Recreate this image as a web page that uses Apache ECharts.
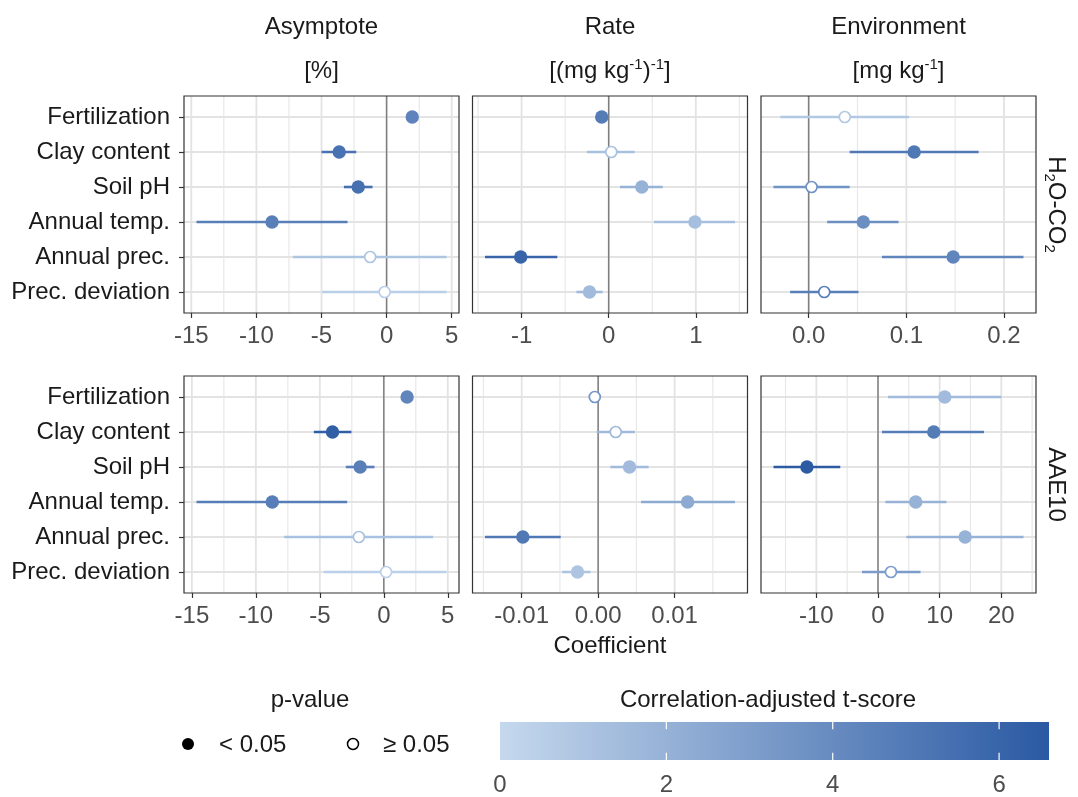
<!DOCTYPE html>
<html>
<head>
<meta charset="utf-8">
<script src="https://cdn.jsdelivr.net/npm/echarts@6/dist/echarts.min.js"></script>
<style>
  html, body { margin: 0; padding: 0; background: #ffffff; }
  #chart { width: 1078px; height: 797px; }
</style>
</head>
<body>
<div id="chart"></div>
<script>
// Predictors (rows), model parameters (columns) and responses (facet rows)
const predictors = ['Fertilization', 'Clay content', 'Soil pH', 'Annual temp.', 'Annual prec.', 'Prec. deviation'];
const parameterNames = ['Asymptote', 'Rate', 'Environment'];
const parameterUnits = ['[%]', '[(mg kg{sup|-1}){sup|-1}]', '[mg kg{sup|-1}]'];
const responseLabels = ['H{sub|2}O-CO{sub|2}', 'AAE10'];

// H2O-CO2 : Asymptote
const h2oAsymEst  = [1.97, -3.64, -2.18, -8.80, -1.26, -0.15];
const h2oAsymLow  = [1.75, -5.00, -3.28, -14.60, -7.20, -4.95];
const h2oAsymHigh = [2.19, -2.33, -1.08, -3.00, 4.60, 4.60];
const h2oAsymT    = [4.4, 5.3, 5.4, 4.6, 1.0, 0.5];
const h2oAsymSig  = [1, 1, 1, 1, 0, 0];

// H2O-CO2 : Rate
const h2oRateEst  = [-0.08, 0.03, 0.38, 0.99, -1.01, -0.22];
const h2oRateLow  = [-0.12, -0.25, 0.13, 0.52, -1.42, -0.37];
const h2oRateHigh = [-0.04, 0.30, 0.62, 1.45, -0.59, -0.07];
const h2oRateT    = [4.8, 1.2, 2.0, 1.3, 6.0, 1.5];
const h2oRateSig  = [1, 0, 1, 1, 1, 1];

// H2O-CO2 : Environment
const h2oEnvEst  = [0.037, 0.108, 0.003, 0.056, 0.148, 0.016];
const h2oEnvLow  = [-0.029, 0.042, -0.036, 0.019, 0.075, -0.019];
const h2oEnvHigh = [0.103, 0.174, 0.042, 0.092, 0.220, 0.051];
const h2oEnvT    = [0.8, 5.0, 3.6, 3.8, 4.3, 4.6];
const h2oEnvSig  = [0, 1, 0, 1, 1, 0];

// AAE10 : Asymptote
const aaeAsymEst  = [1.82, -4.01, -1.85, -8.72, -1.95, 0.18];
const aaeAsymLow  = [1.62, -5.47, -2.97, -14.64, -7.79, -4.69];
const aaeAsymHigh = [2.02, -2.53, -0.73, -2.86, 3.85, 4.90];
const aaeAsymT    = [4.3, 6.3, 4.6, 4.7, 1.2, 0.4];
const aaeAsymSig  = [1, 1, 1, 1, 0, 0];

// AAE10 : Rate
const aaeRateEst  = [-0.00044, 0.0023, 0.0041, 0.0117, -0.00985, -0.0027];
const aaeRateLow  = [-0.0007, -0.0002, 0.0016, 0.0056, -0.0148, -0.0047];
const aaeRateHigh = [-0.0002, 0.0048, 0.0066, 0.0179, -0.0049, -0.0010];
const aaeRateT    = [3.4, 1.6, 1.5, 2.4, 5.0, 1.0];
const aaeRateSig  = [0, 0, 1, 1, 1, 1];

// AAE10 : Environment
const aaeEnvEst  = [10.83, 9.04, -11.53, 6.12, 14.13, 2.10];
const aaeEnvLow  = [1.62, 0.65, -16.95, 1.19, 4.60, -2.60];
const aaeEnvHigh = [20.00, 17.20, -6.12, 11.10, 23.60, 6.90];
const aaeEnvT    = [1.5, 4.8, 6.5, 2.0, 2.0, 3.1];
const aaeEnvSig  = [1, 1, 1, 1, 1, 0];

// Axis ticks and their labels
const asymTicks = [-15, -10, -5, 0, 5];
const asymTickLabels = ['-15', '-10', '-5', '0', '5'];
const h2oRateTicks = [-1, 0, 1];
const h2oRateTickLabels = ['-1', '0', '1'];
const h2oEnvTicks = [0, 0.1, 0.2];
const h2oEnvTickLabels = ['0.0', '0.1', '0.2'];
const aaeRateTicks = [-0.01, 0, 0.01];
const aaeRateTickLabels = ['-0.01', '0.00', '0.01'];
const aaeEnvTicks = [-10, 0, 10, 20];
const aaeEnvTickLabels = ['-10', '0', '10', '20'];

// Colour scale for the correlation-adjusted t-score
const tScoreTicks = [0, 2, 4, 6];
const tScoreMin = 0;
const tScoreMax = 6.6;
const tScoreColors = ['#c5d8ed', '#2a59a3'];

const FONT = '"Liberation Sans", Arial, sans-serif';
const TEXT_SIZE = 24;

const panels = [
  { row: 0, col: 0, est: h2oAsymEst, low: h2oAsymLow, high: h2oAsymHigh, t: h2oAsymT, sig: h2oAsymSig, ticks: asymTicks, tickLabels: asymTickLabels },
  { row: 0, col: 1, est: h2oRateEst, low: h2oRateLow, high: h2oRateHigh, t: h2oRateT, sig: h2oRateSig, ticks: h2oRateTicks, tickLabels: h2oRateTickLabels },
  { row: 0, col: 2, est: h2oEnvEst, low: h2oEnvLow, high: h2oEnvHigh, t: h2oEnvT, sig: h2oEnvSig, ticks: h2oEnvTicks, tickLabels: h2oEnvTickLabels },
  { row: 1, col: 0, est: aaeAsymEst, low: aaeAsymLow, high: aaeAsymHigh, t: aaeAsymT, sig: aaeAsymSig, ticks: asymTicks, tickLabels: asymTickLabels },
  { row: 1, col: 1, est: aaeRateEst, low: aaeRateLow, high: aaeRateHigh, t: aaeRateT, sig: aaeRateSig, ticks: aaeRateTicks, tickLabels: aaeRateTickLabels },
  { row: 1, col: 2, est: aaeEnvEst, low: aaeEnvLow, high: aaeEnvHigh, t: aaeEnvT, sig: aaeEnvSig, ticks: aaeEnvTicks, tickLabels: aaeEnvTickLabels }
];

// Panel layout (pixels)
const panelLeft = [184, 472.5, 761];
const panelTop = [96, 376];
const panelW = 275;
const panelH = 217;

const rowPositions = predictors.map((_, i) => i + 1);

function tickLabel(ticks, labels, v) {
  const i = ticks.findIndex(t => Math.abs(t - v) < 1e-9);
  return i >= 0 ? labels[i] : '';
}

const GRID_MAJOR = { stroke: '#e3e3e3', lineWidth: 1.8 };
const GRID_MINOR = { stroke: '#e8e8e8', lineWidth: 1.2 };
const ZERO_LINE = { stroke: '#7f7f7f', lineWidth: 1.5 };

const grids = [], xAxes = [], yAxes = [], series = [];
const pointSeriesIndex = [];

panels.forEach((p, k) => {
  // ggplot-style 5% expansion around the interval range
  const lo = Math.min(...p.low, ...p.est);
  const hi = Math.max(...p.high, ...p.est);
  const pad = (hi - lo) * 0.05;
  const xMin = lo - pad, xMax = hi + pad;

  grids.push({
    left: panelLeft[p.col], top: panelTop[p.row], width: panelW, height: panelH,
    show: true, borderColor: '#333333', borderWidth: 1.2, backgroundColor: 'transparent', z: 10
  });

  xAxes.push({
    type: 'value', gridIndex: k, min: xMin, max: xMax, position: 'bottom',
    axisLine: { show: false, onZero: false },
    splitLine: { show: false },
    axisTick: { show: true, customValues: p.ticks, length: 5, lineStyle: { color: '#333333', width: 1.2 } },
    axisLabel: {
      customValues: p.ticks,
      formatter: v => tickLabel(p.ticks, p.tickLabels, v),
      fontSize: TEXT_SIZE, fontFamily: FONT, color: '#4d4d4d', margin: 11
    }
  });

  yAxes.push({
    type: 'value', gridIndex: k, inverse: true, min: 0.4, max: predictors.length + 0.6, position: 'left',
    axisLine: { show: false, onZero: false },
    splitLine: { show: false },
    axisTick: { show: p.col === 0, customValues: rowPositions, length: 5, lineStyle: { color: '#333333', width: 1.2 } },
    axisLabel: {
      show: p.col === 0,
      customValues: rowPositions,
      formatter: v => predictors[Math.round(v) - 1] || '',
      fontSize: TEXT_SIZE, fontFamily: FONT, color: '#1a1a1a', margin: 14
    }
  });

  // vertical grid lines: major (0), minor (1), zero reference line (2)
  const step = p.ticks[1] - p.ticks[0];
  const minors = p.ticks.map(t => t - step / 2).concat([p.ticks[p.ticks.length - 1] + step / 2])
    .filter(v => v > xMin && v < xMax);
  const vLines = minors.map(v => [v, 1]).concat(p.ticks.map(v => [v, 0])).concat([[0, 2]]);
  series.push({
    type: 'custom', xAxisIndex: k, yAxisIndex: k, z: 1, silent: true,
    data: vLines,
    renderItem: (params, api) => {
      const x = api.coord([api.value(0), 1])[0];
      const cs = params.coordSys;
      const kind = api.value(1);
      const style = kind === 2 ? ZERO_LINE : kind === 1 ? GRID_MINOR : GRID_MAJOR;
      return { type: 'line', z2: kind === 2 ? 5 : (kind === 1 ? 1 : 2), shape: { x1: x, y1: cs.y, x2: x, y2: cs.y + cs.height }, style };
    }
  });

  // horizontal grid lines at each predictor
  series.push({
    type: 'custom', xAxisIndex: k, yAxisIndex: k, z: 1, silent: true,
    data: rowPositions.map(r => [xMin, r]),
    renderItem: (params, api) => {
      const y = api.coord([api.value(0), api.value(1)])[1];
      const cs = params.coordSys;
      return { type: 'line', z2: 3, shape: { x1: cs.x, y1: y, x2: cs.x + cs.width, y2: y }, style: GRID_MAJOR };
    }
  });

  // estimates with intervals
  pointSeriesIndex.push(series.length);
  series.push({
    type: 'custom', xAxisIndex: k, yAxisIndex: k, z: 3,
    encode: { x: [0, 2, 3], y: 1 },
    data: p.est.map((e, i) => [e, i + 1, p.low[i], p.high[i], p.t[i], p.sig[i]]),
    renderItem: (params, api) => {
      const y = api.value(1);
      const a = api.coord([api.value(2), y]);
      const b = api.coord([api.value(3), y]);
      const c = api.coord([api.value(0), y]);
      const color = api.visual('color');
      const filled = api.value(5) === 1;
      return {
        type: 'group',
        children: [
          { type: 'line', shape: { x1: a[0], y1: a[1], x2: b[0], y2: b[1] }, style: { stroke: color, lineWidth: 2.6 } },
          filled
            ? { type: 'circle', shape: { cx: c[0], cy: c[1], r: 6.7 }, style: { fill: color } }
            : { type: 'circle', shape: { cx: c[0], cy: c[1], r: 5.5 }, style: { fill: '#ffffff', stroke: color, lineWidth: 1.7 } }
        ]
      };
    }
  });
});

// colour bar
const cbIndex = panels.length;
grids.push({ left: 500, top: 722, width: 549, height: 42, show: false });
xAxes.push({
  type: 'value', gridIndex: cbIndex, min: tScoreMin, max: tScoreMax, position: 'bottom',
  axisLine: { show: false, onZero: false }, axisTick: { show: false }, splitLine: { show: false },
  axisLabel: { customValues: tScoreTicks, fontSize: TEXT_SIZE, fontFamily: FONT, color: '#4d4d4d', margin: 13 }
});
yAxes.push({ type: 'value', gridIndex: cbIndex, min: 0, max: 1, show: false, axisLine: { onZero: false } });
series.push({
  type: 'custom', xAxisIndex: cbIndex, yAxisIndex: cbIndex, silent: true, z: 2,
  data: [[tScoreMin, 0, tScoreMax, 1]],
  renderItem: (params, api) => {
    const p0 = api.coord([api.value(0), api.value(3)]);
    const p1 = api.coord([api.value(2), api.value(1)]);
    const children = [{
      type: 'rect',
      shape: { x: p0[0], y: p0[1], width: p1[0] - p0[0], height: p1[1] - p0[1] },
      style: {
        fill: new echarts.graphic.LinearGradient(0, 0, 1, 0, [
          { offset: 0, color: tScoreColors[0] },
          { offset: 1, color: tScoreColors[1] }
        ])
      }
    }];
    const tickLen = (p1[1] - p0[1]) * 0.19;
    tScoreTicks.filter(t => t > tScoreMin && t < tScoreMax).forEach(t => {
      const x = api.coord([t, 0])[0];
      children.push({ type: 'line', shape: { x1: x, y1: p0[1], x2: x, y2: p0[1] + tickLen }, style: { stroke: '#ffffff', lineWidth: 1.2 } });
      children.push({ type: 'line', shape: { x1: x, y1: p1[1], x2: x, y2: p1[1] - tickLen }, style: { stroke: '#ffffff', lineWidth: 1.2 } });
    });
    return { type: 'group', children };
  }
});

// titles, strip labels and the p-value key
const graphics = [];
function addText(x, y, text, opts) {
  graphics.push(Object.assign({
    type: 'text', x, y, silent: true,
    style: Object.assign({
      text, fontSize: TEXT_SIZE, fontFamily: FONT, fill: '#1a1a1a', align: 'center', verticalAlign: 'middle'
    }, (opts && opts.style) || {})
  }, (opts && opts.el) || {}));
}
const supRich = {
  sup: { fontSize: 15, fontFamily: FONT, fill: '#1a1a1a', verticalAlign: 'top', lineHeight: 15 },
  sub: { fontSize: 15, fontFamily: FONT, fill: '#1a1a1a', verticalAlign: 'bottom', lineHeight: 15 }
};
parameterNames.forEach((name, c) => {
  const cx = panelLeft[c] + panelW / 2;
  addText(cx, 27, name);
  addText(cx, 71, parameterUnits[c], { style: { rich: supRich, lineHeight: 28 } });
});
responseLabels.forEach((label, r) => {
  addText(1056, panelTop[r] + panelH / 2, label, {
    style: { rich: supRich, lineHeight: 28 },
    el: { rotation: -Math.PI / 2 }
  });
});
addText(panelLeft[1] + panelW / 2, 646, 'Coefficient');

addText(310, 700, 'p-value');
graphics.push({ type: 'circle', silent: true, shape: { cx: 188, cy: 744, r: 6 }, style: { fill: '#000000' } });
addText(219, 745, '< 0.05', { style: { align: 'left' } });
graphics.push({ type: 'circle', silent: true, shape: { cx: 353, cy: 744, r: 5.5 }, style: { fill: '#ffffff', stroke: '#000000', lineWidth: 1.5 } });
addText(383, 745, '\u2265 0.05', { style: { align: 'left' } });
addText(768, 700, 'Correlation-adjusted t-score');

const chart = echarts.init(document.getElementById('chart'), null, { renderer: 'canvas' });
chart.setOption({
  animation: false,
  backgroundColor: '#ffffff',
  textStyle: { fontFamily: FONT },
  grid: grids,
  xAxis: xAxes,
  yAxis: yAxes,
  visualMap: {
    type: 'continuous', show: false,
    min: tScoreMin, max: tScoreMax, dimension: 4,
    seriesIndex: pointSeriesIndex,
    inRange: { color: tScoreColors }
  },
  graphic: graphics,
  series
});
</script>
</body>
</html>
